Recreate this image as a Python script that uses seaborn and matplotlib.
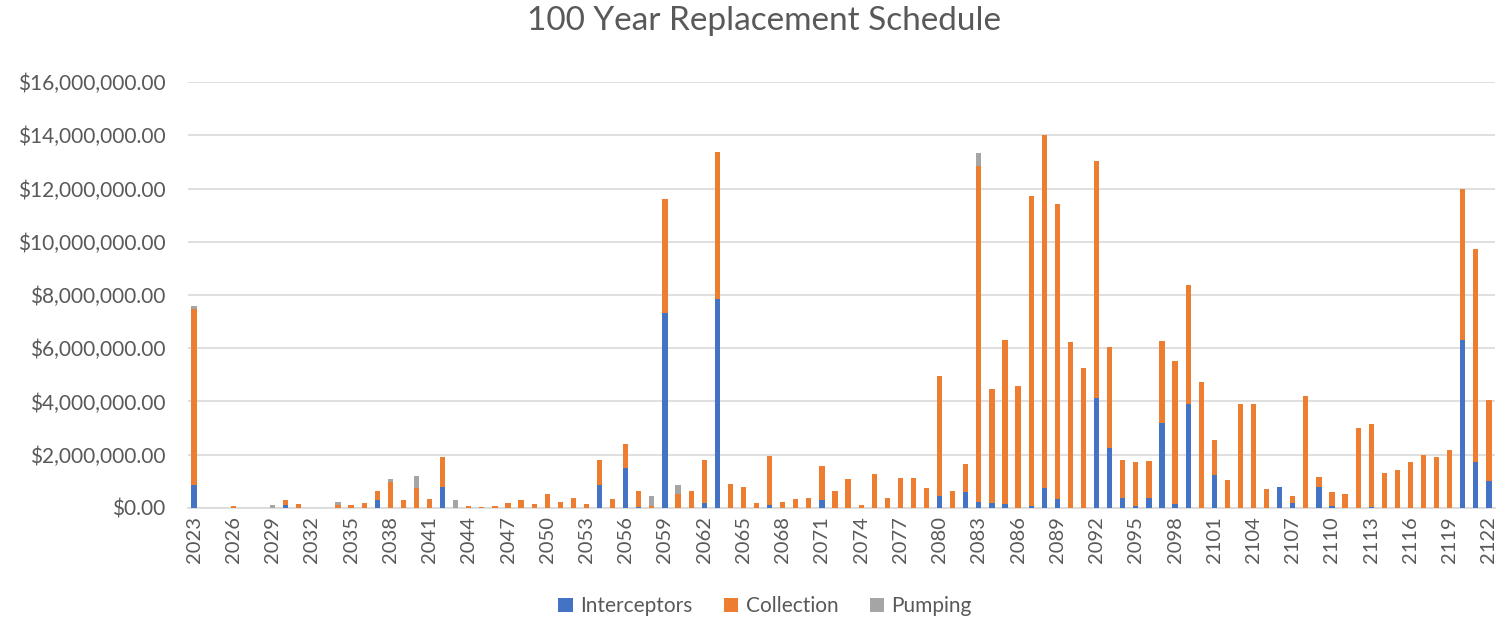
import numpy as np
import pandas as pd
import matplotlib
matplotlib.use("Agg")
import matplotlib.pyplot as plt
from matplotlib.ticker import FuncFormatter, MultipleLocator
from matplotlib.patches import Patch
import seaborn as sns

years = list(range(2023, 2123))

# values in millions of dollars
interceptors = [
    0.85, 0, 0, 0, 0, 0, 0, 0.10, 0, 0,            # 2023-2032
    0, 0, 0, 0, 0.31, 0, 0, 0, 0, 0.80,            # 2033-2042
    0, 0, 0, 0, 0, 0, 0, 0, 0, 0,                  # 2043-2052
    0, 0.86, 0, 1.50, 0.05, 0, 7.33, 0, 0, 0.20,   # 2053-2062
    7.86, 0, 0, 0, 0.12, 0, 0, 0, 0.31, 0,         # 2063-2072
    0, 0, 0, 0, 0, 0, 0, 0.46, 0, 0.61,           # 2073-2082
    0.22, 0.17, 0.15, 0, 0.08, 0.75, 0.35, 0, 0, 4.15,  # 2083-2092
    2.27, 0.39, 0.08, 0.38, 3.18, 0.15, 3.90, 0, 1.24, 0,  # 2093-2102
    0, 0, 0, 0.79, 0.20, 0, 0.78, 0.06, 0, 0,      # 2103-2112
    0.03, 0, 0, 0, 0, 0, 0, 6.31, 1.73, 1.03,      # 2113-2122
]
collection = [
    6.62, 0, 0, 0.09, 0, 0, 0, 0.19, 0.14, 0,      # 2023-2032
    0, 0.10, 0.10, 0.20, 0.33, 0.98, 0.29, 0.76, 0.34, 1.12,  # 2033-2042
    0, 0.06, 0.05, 0.07, 0.19, 0.30, 0.15, 0.54, 0.21, 0.39,  # 2043-2052
    0.15, 0.93, 0.35, 0.92, 0.58, 0.07, 4.26, 0.51, 0.65, 1.60,  # 2053-2062
    5.50, 0.90, 0.80, 0.17, 1.84, 0.21, 0.35, 0.37, 1.27, 0.64,  # 2063-2072
    1.09, 0.10, 1.28, 0.39, 1.14, 1.14, 0.76, 4.50, 0.65, 1.04,  # 2073-2082
    12.63, 4.31, 6.15, 4.58, 11.62, 13.27, 11.07, 6.25, 5.25, 8.90,  # 2083-2092
    3.78, 1.43, 1.64, 1.37, 3.08, 5.36, 4.48, 4.73, 1.33, 1.05,  # 2093-2102
    3.90, 3.90, 0.71, 0, 0.25, 4.20, 0.37, 0.53, 0.51, 2.99,     # 2103-2112
    3.14, 1.30, 1.43, 1.74, 1.99, 1.92, 2.17, 5.66, 8.01, 3.03,  # 2113-2122
]
pumping = [
    0.10, 0, 0, 0, 0, 0, 0.11, 0, 0, 0,            # 2023-2032
    0, 0.12, 0, 0, 0, 0.12, 0, 0.43, 0, 0,         # 2033-2042
    0.30, 0, 0, 0, 0, 0, 0, 0, 0, 0,               # 2043-2052
    0, 0, 0, 0, 0, 0.37, 0, 0.35, 0, 0,            # 2053-2062
    0, 0, 0, 0, 0, 0, 0, 0, 0, 0,                  # 2063-2072
    0, 0, 0, 0, 0, 0, 0, 0, 0, 0,                  # 2073-2082
    0.50, 0, 0, 0, 0, 0, 0, 0, 0, 0,               # 2083-2092
    0, 0, 0, 0, 0, 0, 0, 0, 0, 0,                  # 2093-2102
    0, 0, 0, 0, 0, 0, 0, 0, 0, 0,                  # 2103-2112
    0, 0, 0, 0, 0, 0, 0, 0, 0, 0,                  # 2113-2122
]
series_names = ["Interceptors", "Collection", "Pumping"]
series_colors = ["#4472C4", "#ED7D31", "#A5A5A5"]
title = "100 Year Replacement Schedule"

df = pd.DataFrame({
    "Year": [str(y) for y in years],
    "Interceptors": np.array(interceptors) * 1e6,
    "Collection": np.array(collection) * 1e6,
    "Pumping": np.array(pumping) * 1e6,
})
df["cum_I"] = df["Interceptors"]
df["cum_IC"] = df["cum_I"] + df["Collection"]
df["cum_ICP"] = df["cum_IC"] + df["Pumping"]

sns.set_theme(style="white")
plt.rcParams["font.family"] = ["Lato", "DejaVu Sans"]

fig = plt.figure(figsize=(15.03, 6.18), dpi=100)
ax = fig.add_axes([0.1248, 0.178, 0.995 - 0.1248, 0.8673 - 0.178])

order = df["Year"].tolist()
for col, color in zip(["cum_ICP", "cum_IC", "cum_I"], series_colors[::-1]):
    sns.barplot(data=df, x="Year", y=col, order=order, color=color,
                saturation=1, width=0.4, linewidth=0, errorbar=None, ax=ax, zorder=3)

ax.set_ylim(0, 16e6)
ax.set_xlim(-0.5, len(years) - 0.5)
ax.yaxis.set_major_locator(MultipleLocator(2e6))
ax.yaxis.set_major_formatter(FuncFormatter(lambda v, p: f"${v:,.2f}"))
ax.set_xticks(range(0, len(years), 3))
ax.set_xticklabels([str(y) for y in years[::3]], rotation=90)
ax.tick_params(axis="y", length=0, labelsize=15, colors="#595959", pad=16)
ax.tick_params(axis="x", length=0, labelsize=14.5, colors="#595959", pad=6)
ax.set_xlabel("")
ax.set_ylabel("")
ax.grid(axis="y", color="#D9D9D9", linewidth=1.2, zorder=0)
ax.set_axisbelow(True)
for s in ["top", "right", "left"]:
    ax.spines[s].set_visible(False)
ax.spines["bottom"].set_color("#D9D9D9")
ax.spines["bottom"].set_linewidth(1.2)

fig.suptitle(title, x=0.508, y=0.99, fontsize=24, color="#595959")

handles = [Patch(facecolor=c, edgecolor="none") for c in series_colors]
fig.legend(handles, series_names, loc="center", bbox_to_anchor=(0.509, 0.019),
           ncol=3, frameon=False, fontsize=15, labelcolor="#595959",
           handlelength=0.7, handleheight=0.7, handletextpad=0.35, columnspacing=1.5)

fig.savefig("out.png", dpi=100)
